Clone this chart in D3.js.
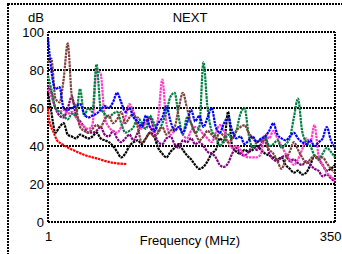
<!DOCTYPE html>
<html>
<head>
<meta charset="UTF-8">
<script src="https://cdn.jsdelivr.net/npm/d3@7"></script>
<style>
body{margin:0;background:#fff;}
svg{display:block;font-family:"Liberation Sans",Arial,sans-serif;}
.grid-line{stroke:#000;stroke-width:2;stroke-dasharray:2,1;fill:none;shape-rendering:crispEdges;}
.axis text{font-size:13px;fill:#000;}
.trace{fill:none;stroke-width:2.2;stroke-dasharray:2.5,0.8;stroke-linejoin:round;}
</style>
</head>
<body>
<div id="root"></div>
<script>
let width = 342, height = 254
let margin = {left: 48, top: 32, right: 7, bottom: 32}

// frequency grid (MHz) shared by the measured pairs
let freqs = [1,5,10,15,20,25,30,35,40,45,50,55,60,65,70,75,80,85,90,95,100,105,110,115,120,125,130,135,140,145,150,155,160,165,170,175,180,185,190,195,200,205,210,215,220,225,230,235,240,245,250,255,260,265,270,275,280,285,290,295,300,305,310,315,320,325,330,335,340,345,350]

let blackDb = [68,58,47,50,52,46,45,44,46,45,44,45,47,44,43,42,40,37,34,36,40,42,43,41,44,47,45,39,36,34,37,39,41,38,35,33,30,28,29,32,36,38,44,42,58,40,37,36,38,37,38,40,38,36,35,34,33,34,30,28,26,27,25,26,30,35,33,30,27,28,30]
let purpleDb = [72,68,60,56,55,60,66,56,53,50,47,47,48,50,46,45,48,44,42,44,46,43,47,51,53,55,48,42,41,44,45,41,39,43,42,44,41,42,40,37,36,34,30,29,31,36,39,36,35,37,40,38,41,44,36,33,32,34,35,32,33,31,30,32,30,28,27,24,25,23,21]
let pinkDb = [70,66,60,58,59,57,58,55,52,50,49,51,80,78,55,50,48,47,50,55,62,58,52,49,52,50,47,55,75,52,46,48,50,46,44,48,50,49,46,44,42,47,51,48,42,39,40,38,35,34,34,34,36,46,44,48,44,40,36,33,30,33,38,44,42,51,35,30,26,24,22]
let greenDb = [77,70,60,58,56,54,57,56,70,56,60,58,83,60,57,55,57,58,52,47,48,50,55,52,49,56,52,48,52,58,66,68,55,46,55,52,47,50,84,60,48,45,40,43,46,44,48,57,60,46,39,42,43,45,40,41,43,39,41,44,55,65,48,42,40,35,33,36,39,37,34]
let brownDb = [84,86,65,63,75,94,66,60,50,48,47,49,51,50,54,56,52,54,58,52,55,57,50,42,44,47,45,47,50,46,48,50,60,68,60,52,47,43,45,48,46,44,47,45,42,44,48,50,51,47,44,42,43,42,38,36,32,28,33,37,42,38,34,31,33,35,33,34,31,28,26]
let blueDb = [97,80,70,71,60,59,60,61,62,57,55,56,57,59,61,60,63,68,63,58,60,55,53,50,56,50,48,52,55,61,53,48,50,47,52,59,53,56,50,55,60,50,47,52,55,48,44,45,41,43,45,42,44,45,48,52,46,44,43,45,47,44,42,41,43,40,42,44,50,43,39]

// limit line
let redFreq = [1,2,4,7,12,18,26,36,47,60,76,97]
let redDb = [60,55,51,48,43,41,39,37,35,33.5,31.5,30.5]

let series = [
  {name: "black", color: "#000000", values: blackDb},
  {name: "purple", color: "#800080", values: purpleDb},
  {name: "pink", color: "#ff3cc8", values: pinkDb},
  {name: "green", color: "#008040", values: greenDb},
  {name: "brown", color: "#80403c", values: brownDb},
  {name: "blue", color: "#0000ff", values: blueDb}
]

let yTicks = [0,20,40,60,80,100]
let xTicks = [1,350]

let svg = d3.select("#root").append("svg").attr("width", width).attr("height", height)

// outer frame
svg.append("rect").attr("class","grid-line")
  .attr("x", 8).attr("y", 4).attr("width", 400).attr("height", 300)

let x = d3.scaleLinear().domain([1, 350]).range([margin.left, width - margin.right])
let y = d3.scaleLinear().domain([0, 100]).range([height - margin.bottom, margin.top])

// horizontal grid
svg.append("g").selectAll("line").data(yTicks).enter().append("line")
  .attr("class","grid-line")
  .attr("x1", x(1)).attr("x2", x(350))
  .attr("y1", d => y(d)).attr("y2", d => y(d))
svg.append("line").attr("class","grid-line")
  .attr("x1", x(1)).attr("x2", x(1)).attr("y1", y(0)).attr("y2", y(100))
svg.append("line").attr("class","grid-line")
  .attr("x1", x(350)).attr("x2", x(350)).attr("y1", y(0)).attr("y2", y(100))

let line = d3.line().x(d => x(d[0])).y(d => y(d[1])).curve(d3.curveMonotoneX)

series.forEach(s => {
  svg.append("path").attr("class","trace")
    .attr("stroke", s.color)
    .attr("d", line(freqs.map((f, i) => [f, s.values[i]])))
})
svg.append("path").attr("class","trace")
  .attr("stroke", "#ff0000")
  .attr("d", line(redFreq.map((f, i) => [f, redDb[i]])))

// axes
let yAxis = d3.axisLeft(y).tickValues(yTicks).tickSize(0).tickPadding(4)
svg.append("g").attr("class","axis").attr("transform","translate(" + margin.left + ",0)").call(yAxis)
  .call(g => g.select(".domain").remove())

let xAxis = d3.axisBottom(x).tickValues(xTicks).tickSize(0).tickPadding(10)
svg.append("g").attr("class","axis").attr("transform","translate(0," + y(0) + ")").call(xAxis)
  .call(g => g.select(".domain").remove())

svg.selectAll(".axis text").attr("font-family", null).attr("font-size", null)
// last label would spill past the right edge, pull it in
svg.selectAll(".axis .tick text").filter(d => d === 350).attr("text-anchor", "end").attr("dx", 6)

svg.append("text").attr("x", 190).attr("y", 22).attr("text-anchor","middle")
  .style("font-size","13px").text("NEXT")
svg.append("text").attr("x", 36).attr("y", 22).attr("text-anchor","middle")
  .style("font-size","13px").text("dB")
svg.append("text").attr("x", 190).attr("y", 245).attr("text-anchor","middle")
  .style("font-size","13px").text("Frequency (MHz)")
</script>
</body>
</html>
